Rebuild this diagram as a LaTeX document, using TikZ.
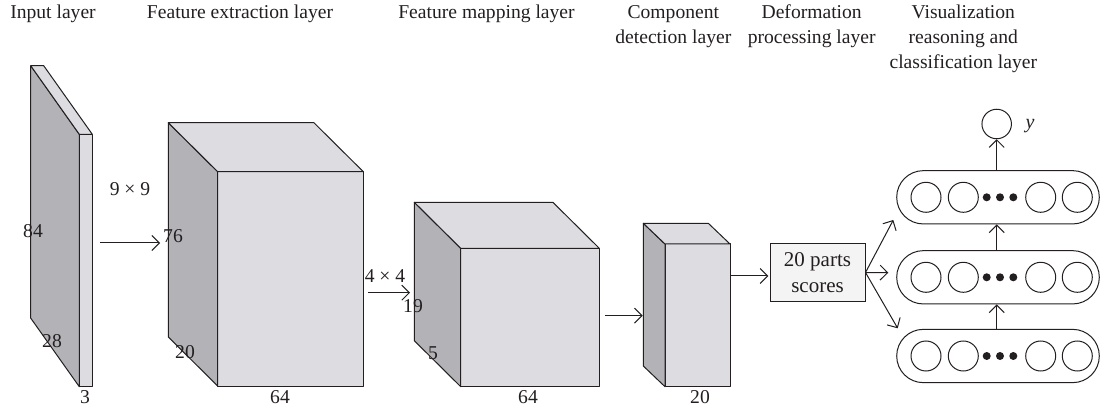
\documentclass[tikz,border=0pt]{standalone}
\usepackage{fontspec}
\setmainfont{Liberation Serif}
\usetikzlibrary{arrows.meta,calc}

\definecolor{linecol}{HTML}{231F20}
\definecolor{darkface}{HTML}{B3B2B7}
\definecolor{lightface}{HTML}{DDDCE1}
\definecolor{boxfill}{HTML}{F4F4F4}

\tikzset{
  txt/.style={font=\fontsize{19.6}{25}\selectfont, inner sep=0pt, text=linecol},
  head/.style={txt, align=center, anchor=north},
  face/.style={draw=linecol, fill=lightface, line width=1pt, line join=round},
  side/.style={draw=linecol, fill=darkface, line width=1pt, line join=round},
  conn/.style={draw=linecol, line width=1pt,
    -{Straight Barb[length=7.5pt,width=15pt,line width=1pt]}},
  capsule/.style={draw=linecol, line width=1pt, rounded corners=26.6pt,
    minimum width=202.6pt, minimum height=53.3pt, inner sep=0pt},
  unit/.style={draw=linecol, line width=1pt, circle, minimum size=30pt, inner sep=0pt},
  dot/.style={fill=linecol, circle, minimum size=8pt, inner sep=0pt},
}

% cuboid: #1 name, front face from (#2,#3) to (#4,#5), depth offset (#6,#7)
\newcommand\cuboid[7]{%
  \node[face, anchor=north west, inner sep=0pt, outer sep=0pt,
        minimum width={(#4)-(#2)}, minimum height={(#5)-(#3)}] (#1) at (#2,#3) {};
  \filldraw[side] (#1.north west) -- ++(#6,#7) -- ($(#1.south west)+(#6,#7)$)
     -- (#1.south west) -- cycle;
  \filldraw[face] (#1.north west) -- ++(#6,#7) -- ($(#1.north east)+(#6,#7)$)
     -- (#1.north east) -- cycle;
}

\begin{document}
\begin{tikzpicture}[x=1pt,y=-1pt]
\useasboundingbox (0,0) rectangle (1102,411);

% layer headings
\node[head] (h1) at (53,5) {Input layer};
\node[head] (h2) at (240,5) {Feature extraction layer};
\node[head] (h3) at (486.5,5) {Feature mapping layer};
\node[head] (h4) at (673.3,5) {Component\\detection layer};
\node[head] (h5) at (811.7,5) {Deformation\\processing layer};
\node[head] (h6) at (963.3,5) {Visualization\\reasoning and\\classification layer};

% feature volumes
\cuboid{inp}{79.3}{134.3}{92.3}{386.7}{-48.6}{-68.6}
\cuboid{fe}{217.7}{171.7}{363.3}{386}{-49.4}{-49}
\cuboid{fm}{460.7}{248.3}{599.3}{386.7}{-46.4}{-46}
\cuboid{cd}{665}{244}{730}{386.7}{-21.7}{-20.7}

% dimensions
\node[txt] (d84) at (33,231) {84};
\node[txt] (d28) at (52,341) {28};
\node[txt] (d3) at (85,397.5) {3};
\node[txt] (k9) at (130,189) {9 × 9};
\node[txt] (d76) at (173,236) {76};
\node[txt] (d20a) at (185,352) {20};
\node[txt] (d64a) at (280,397.5) {64};
\node[txt] (k4) at (385,276) {4 × 4};
\node[txt] (d19) at (413,306) {19};
\node[txt] (d5) at (433,353) {5};
\node[txt] (d64b) at (528,397.5) {64};
\node[txt] (d20b) at (700,397.5) {20};

% arrows between volumes
\coordinate (a1s) at (100,243);   \coordinate (a1e) at (160,243);
\coordinate (a2s) at (368.3,292.7); \coordinate (a2e) at (410,292.7);
\coordinate (a3s) at (605,315.7); \coordinate (a3e) at (642.7,315.7);
\coordinate (a4s) at (730.7,276); \coordinate (a4e) at (768.3,276);
\draw[conn] (a1s) -- (a1e);
\draw[conn] (a2s) -- (a2e);
\draw[conn] (a3s) -- (a3e);
\draw[conn] (a4s) -- (a4e);

% part scores
\node[draw=linecol, line width=1pt, fill=boxfill, minimum width=95pt,
      minimum height=58.4pt, inner sep=0pt, align=center, text=linecol,
      font=\fontsize{21}{26}\selectfont] (scores) at (817.5,272.5) {20 parts\\scores};

% stacked layers of units
\foreach \r/\yy in {top/197.3, mid/277.3, bot/356} {
  \node[capsule] (\r) at (998,\yy) {};
  \node[unit] (\r-u1) at (926,\yy) {};
  \node[unit] (\r-u2) at (963.3,\yy) {};
  \node[dot] (\r-d1) at (986.7,\yy) {};
  \node[dot] (\r-d2) at (1000,\yy) {};
  \node[dot] (\r-d3) at (1013.3,\yy) {};
  \node[unit] (\r-u3) at (1040.7,\yy) {};
  \node[unit] (\r-u4) at (1077.3,\yy) {};
}

% output unit
\node[unit, minimum size=29.5pt] (out) at (996.7,124) {};
\node[txt, font=\fontsize{20}{25}\selectfont\itshape] (ylab) at (1030,126) {y};

% branches from the scores
\coordinate (b1) at (893.3,220);
\coordinate (b2) at (888.3,272.7);
\coordinate (b3) at (897.7,328.3);
\draw[conn] (scores.east) -- (b1);
\draw[conn] (scores.east) -- (b2);
\draw[conn] (scores.east) -- (b3);

% upward connections
\draw[conn] (bot.north -| out) -- (mid.south -| out);
\draw[conn] (mid.north -| out) -- (top.south -| out);
\draw[conn] (top.north -| out) -- (out.south);
\end{tikzpicture}
\end{document}
